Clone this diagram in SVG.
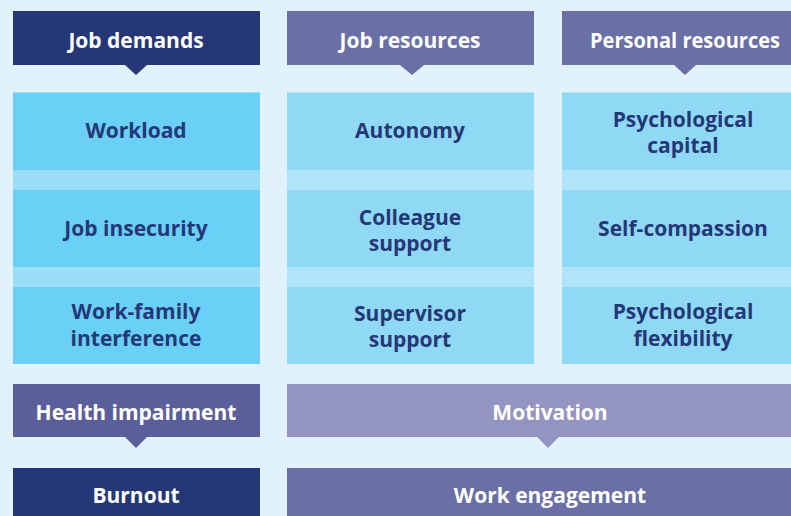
<svg xmlns="http://www.w3.org/2000/svg" width="791" height="516" viewBox="0 0 791 516">
<style>
.t{font-family:"Open Sans","Noto Sans","Liberation Sans",sans-serif;font-weight:700;font-size:21px;text-anchor:middle}
.w{fill:#ffffff}
.d{fill:#253777}
</style>
<rect width="791" height="516" fill="#E1F2FC"/>
<g id="connectors">
<polygon points="125,65 147,65 136,75" fill="#253777"/>
<polygon points="400,65 424,65 412,75" fill="#6A6FA6"/>
<polygon points="674,65 696,65 685,75" fill="#6A6FA6"/>
<polygon points="125,437 147,437 136,448" fill="#5A5F9C"/>
<polygon points="537,437 559,437 548,448" fill="#9494C2"/>
</g>
<g id="job-demands"><rect x="13" y="11" width="247" height="54" fill="#253777"/><text class="t w" x="136" y="48">Job demands</text></g>
<g id="job-resources"><rect x="287" y="11" width="247" height="54" fill="#6A6FA6"/><text class="t w" x="410" y="48">Job resources</text></g>
<g id="personal-resources"><rect x="562" y="11" width="247" height="54" fill="#6A6FA6"/><text class="t w" x="685" y="48" textLength="190" lengthAdjust="spacingAndGlyphs">Personal resources</text></g>
<g id="col1-cells">
<rect x="13" y="92" width="247" height="272" fill="#6AD0F5"/>
<rect x="13" y="92" width="247" height="1" fill="#9BDEF7"/>
<rect x="13" y="170" width="247" height="20" fill="#9BDEF7"/>
<rect x="13" y="267" width="247" height="20" fill="#9BDEF7"/>
</g>
<g id="col2-cells">
<rect x="287" y="92" width="247" height="272" fill="#8FD9F5"/>
<rect x="287" y="92" width="247" height="1" fill="#B0E4F8"/>
<rect x="287" y="170" width="247" height="20" fill="#B0E4F8"/>
<rect x="287" y="267" width="247" height="20" fill="#B0E4F8"/>
</g>
<g id="col3-cells">
<rect x="562" y="92" width="247" height="272" fill="#8FD9F5"/>
<rect x="562" y="92" width="247" height="1" fill="#B0E4F8"/>
<rect x="562" y="170" width="247" height="20" fill="#B0E4F8"/>
<rect x="562" y="267" width="247" height="20" fill="#B0E4F8"/>
</g>
<g id="workload"><text class="t d" x="136" y="138">Workload</text></g>
<g id="job-insecurity"><text class="t d" x="136" y="236">Job insecurity</text></g>
<g id="work-family"><text class="t d" x="136" y="319">Work-family</text><text class="t d" x="136" y="346">interference</text></g>
<g id="autonomy"><text class="t d" x="410" y="138">Autonomy</text></g>
<g id="colleague-support"><text class="t d" x="410" y="225">Colleague</text><text class="t d" x="410" y="251">support</text></g>
<g id="supervisor-support"><text class="t d" x="410" y="321">Supervisor</text><text class="t d" x="410" y="347">support</text></g>
<g id="psychological-capital"><text class="t d" x="683" y="127">Psychological</text><text class="t d" x="683" y="153">capital</text></g>
<g id="self-compassion"><text class="t d" x="683" y="236">Self-compassion</text></g>
<g id="psychological-flexibility"><text class="t d" x="683" y="319">Psychological</text><text class="t d" x="683" y="346">flexibility</text></g>
<g id="health-impairment"><rect x="13" y="384" width="247" height="53" fill="#5A5F9C"/><text class="t w" x="136" y="420">Health impairment</text></g>
<g id="motivation"><rect x="287" y="384" width="522" height="53" fill="#9494C2"/><text class="t w" x="550" y="420">Motivation</text></g>
<g id="burnout"><rect x="13" y="468" width="247" height="48" fill="#253777"/><text class="t w" x="136" y="503">Burnout</text></g>
<g id="work-engagement"><rect x="287" y="468" width="522" height="48" fill="#6A6FA6"/><text class="t w" x="550" y="503">Work engagement</text></g>
</svg>
